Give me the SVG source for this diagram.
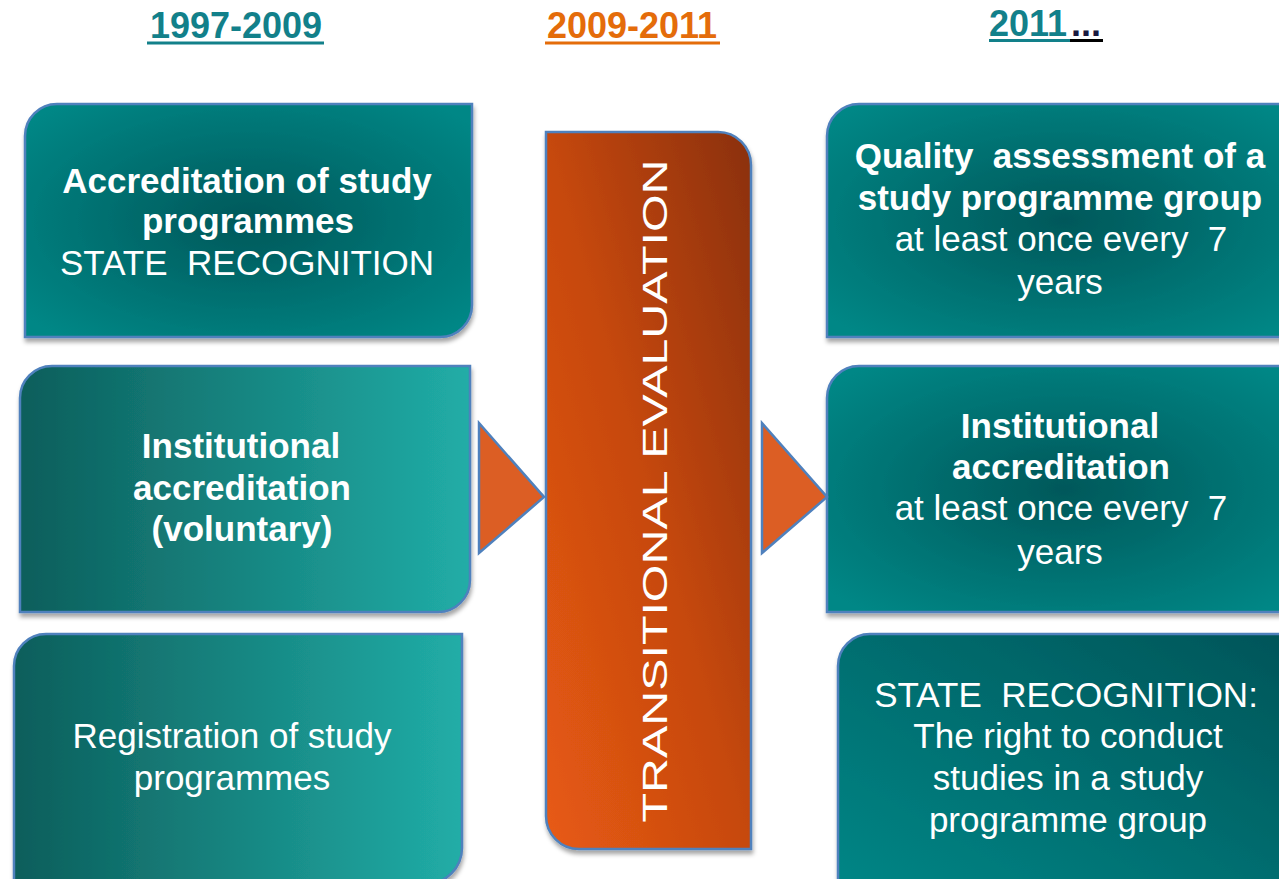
<svg xmlns="http://www.w3.org/2000/svg" width="1279" height="879" viewBox="0 0 1279 879">
  <defs>
    <style>
      .box { stroke: #4F81BD; stroke-width: 2.5; filter: url(#shadow); }
      .lbl { font-family: "Liberation Sans", Arial, sans-serif; font-size: 35px; fill: #FFFFFF; text-anchor: middle; }
      .b { font-weight: bold; }
      .hdr { font-family: "Liberation Sans", Arial, sans-serif; font-size: 36px; font-weight: bold; text-anchor: middle; }
      .hdr-start { text-anchor: start; }
      .arrow { fill: #DC5E24; stroke: #4F81BD; stroke-width: 2.5; }
    </style>
    <filter id="shadow" x="-10%" y="-10%" width="120%" height="125%">
      <feDropShadow dx="1" dy="4" stdDeviation="2" flood-color="#000000" flood-opacity="0.35"/>
    </filter>
    <radialGradient id="tealRadial" cx="50%" cy="50%" r="65%">
      <stop offset="0" stop-color="#03585A"/>
      <stop offset="1" stop-color="#008786"/>
    </radialGradient>
    <linearGradient id="tealLinear" x1="0" y1="0" x2="1" y2="0">
      <stop offset="0" stop-color="#0C5E5B"/>
      <stop offset="1" stop-color="#21ADA7"/>
    </linearGradient>
    <linearGradient id="tealDiag" x1="1" y1="0" x2="0" y2="1">
      <stop offset="0" stop-color="#025458"/>
      <stop offset="1" stop-color="#008787"/>
    </linearGradient>
    <linearGradient id="orangeDiag" x1="0" y1="1" x2="1" y2="0">
      <stop offset="0" stop-color="#E85B13"/>
      <stop offset="0.5" stop-color="#C6480F"/>
      <stop offset="1" stop-color="#8A3008"/>
    </linearGradient>
  </defs>

  <rect width="1279" height="879" fill="#FFFFFF"/>

  <!-- period headings -->
  <g id="header-1997-2009">
    <text class="hdr" x="236" y="38" fill="#12808A">1997-2009</text>
    <rect x="147" y="41.5" width="177" height="3" fill="#12808A"/>
  </g>
  <g id="header-2009-2011">
    <text class="hdr" x="632" y="38" fill="#E46C0A">2009-2011</text>
    <rect x="545" y="41.5" width="175" height="3" fill="#E46C0A"/>
  </g>
  <g id="header-2011">
    <text class="hdr hdr-start" x="989" y="36" fill="#12808A">2011<tspan x="1071" fill="#1A1A40">...</tspan></text>
    <rect x="989" y="39" width="81" height="3" fill="#12808A"/>
    <rect x="1070" y="39" width="33" height="3" fill="#000000"/>
  </g>

  <!-- left column: 1997-2009 -->
  <g id="node-accreditation">
    <path class="box" fill="url(#tealRadial)" d="M25,136 A32,32 0 0 1 57,104 L472,104 L472,305 A32,32 0 0 1 440,337 L25,337 Z"/>
    <text class="lbl b" x="247" y="193">Accreditation of study</text>
    <text class="lbl b" x="248" y="233">programmes</text>
    <text class="lbl" x="247" y="275" xml:space="preserve">STATE  RECOGNITION</text>
  </g>

  <g id="node-institutional-voluntary">
    <path class="box" fill="url(#tealLinear)" d="M20,398 A32,32 0 0 1 52,366 L470,366 L470,580 A32,32 0 0 1 438,612 L20,612 Z"/>
    <text class="lbl b" x="241" y="458">Institutional</text>
    <text class="lbl b" x="242" y="500">accreditation</text>
    <text class="lbl b" x="242" y="541">(voluntary)</text>
  </g>

  <g id="node-registration">
    <path class="box" fill="url(#tealLinear)" d="M14,666 A32,32 0 0 1 46,634 L462,634 L462,848 A36,36 0 0 1 426,884 L14,884 Z"/>
    <text class="lbl" x="232" y="748">Registration of study</text>
    <text class="lbl" x="232" y="790">programmes</text>
  </g>

  <!-- centre: transition period -->
  <g id="node-transitional">
    <path class="box" fill="url(#orangeDiag)" d="M546,132 L718,132 A33,33 0 0 1 751,165 L751,849 L579,849 A33,33 0 0 1 546,816 Z"/>
    <text class="lbl" font-size="51" transform="translate(667,491) rotate(-90)" textLength="663" lengthAdjust="spacingAndGlyphs">TRANSITIONAL EVALUATION</text>
  </g>

  <!-- right column: 2011 onwards -->
  <g id="node-quality-assessment">
    <path class="box" fill="url(#tealRadial)" d="M827,136 A32,32 0 0 1 859,104 L1300,104 L1300,337 L827,337 Z"/>
    <text class="lbl b" x="1060" y="168" xml:space="preserve">Quality  assessment of a</text>
    <text class="lbl b" x="1060" y="210">study programme group</text>
    <text class="lbl" x="1061" y="251" xml:space="preserve">at least once every  7</text>
    <text class="lbl" x="1060" y="294">years</text>
  </g>

  <g id="node-institutional-periodic">
    <path class="box" fill="url(#tealRadial)" d="M827,398 A32,32 0 0 1 859,366 L1300,366 L1300,612 L827,612 Z"/>
    <text class="lbl b" x="1060" y="438">Institutional</text>
    <text class="lbl b" x="1061" y="479">accreditation</text>
    <text class="lbl" x="1061" y="520" xml:space="preserve">at least once every  7</text>
    <text class="lbl" x="1060" y="564">years</text>
  </g>

  <g id="node-state-recognition">
    <path class="box" fill="url(#tealDiag)" d="M838,666 A32,32 0 0 1 870,634 L1300,634 L1300,900 L838,900 Z"/>
    <text class="lbl" x="1066" y="707" xml:space="preserve">STATE  RECOGNITION:</text>
    <text class="lbl" x="1068" y="748">The right to conduct</text>
    <text class="lbl" x="1068" y="790">studies in a study</text>
    <text class="lbl" x="1068" y="832">programme group</text>
  </g>

  <!-- connectors -->
  <g id="connectors">
    <polygon class="arrow" points="479,423 544,497 479,553"/>
    <polygon class="arrow" points="762,423 827,497 762,553"/>
  </g>
</svg>
